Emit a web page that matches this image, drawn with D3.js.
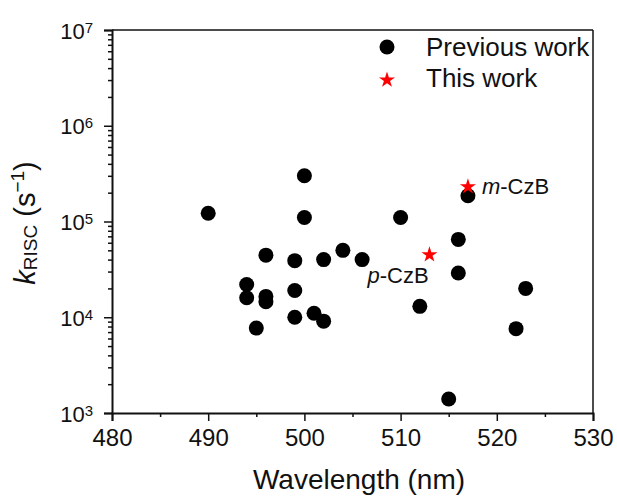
<!DOCTYPE html>
<html>
<head>
<meta charset="utf-8">
<script src="https://cdn.jsdelivr.net/npm/d3@7"></script>
<style>
  body { margin: 0; background: #fff; }
  text { font-family: "Liberation Sans", Arial, sans-serif; fill: #111; }
</style>
</head>
<body>
<svg id="chart" width="617" height="496"></svg>
<script>
// previous work (wavelength nm, kRISC s^-1)
const prevWavelength = [490, 500, 500, 496, 494, 494, 496, 496, 495, 499, 499, 499, 501, 502, 502, 504, 506, 510, 512, 516, 516, 517, 515, 522, 523];
const prevKrisc = [1.22e5, 3.0e5, 1.1e5, 4.45e4, 2.2e4, 1.6e4, 1.65e4, 1.45e4, 7.7e3, 3.9e4, 1.9e4, 1.0e4, 1.1e4, 9.1e3, 4.0e4, 5.0e4, 4.0e4, 1.1e5, 1.3e4, 6.5e4, 2.9e4, 1.86e5, 1.4e3, 7.6e3, 2.0e4];

// this work
const thisNames = ["m-CzB", "p-CzB"];
const thisWavelength = [517, 513];
const thisKrisc = [2.36e5, 4.6e4];

const xTicks = [480, 490, 500, 510, 520, 530];
const yTicks = [1e3, 1e4, 1e5, 1e6, 1e7];
const legendLabels = ["Previous work", "This work"];

const svg = d3.select("#chart");
const margin = { left: 112, top: 30, right: 24, bottom: 83 };
const W = 617 - margin.left - margin.right;
const H = 496 - margin.top - margin.bottom;

const x = d3.scaleLinear().domain([480, 530]).range([0, W]);
const y = d3.scaleLog().domain([1e3, 1e7]).range([H, 0]);

const g = svg.append("g").attr("transform", `translate(${margin.left},${margin.top})`);

// minor ticks first
const xMinor = d3.range(485, 530, 10);
g.append("g")
  .attr("transform", `translate(0,${H})`)
  .call(d3.axisBottom(x).tickValues(xMinor).tickSize(4).tickFormat(""))
  .call(a => a.select(".domain").remove())
  .selectAll("line").attr("stroke", "#111").attr("stroke-width", 1.5);

let yMinor = [];
[1e3, 1e4, 1e5, 1e6].forEach(d => { for (let k = 2; k <= 9; k++) yMinor.push(d * k); });
g.append("g")
  .call(d3.axisLeft(y).tickValues(yMinor).tickSize(4).tickFormat(""))
  .call(a => a.select(".domain").remove())
  .selectAll("line").attr("stroke", "#111").attr("stroke-width", 1.5);

// major x axis
const xAxis = g.append("g")
  .attr("transform", `translate(0,${H})`)
  .call(d3.axisBottom(x).tickValues(xTicks).tickSize(8).tickPadding(8).tickFormat(d3.format("d")));
xAxis.selectAll("line").attr("stroke", "#111").attr("stroke-width", 1.5);
xAxis.select(".domain").attr("stroke", "#111").attr("stroke-width", 2);
xAxis.selectAll("text").attr("font-size", 24).attr("fill", "#111")
  .attr("font-family", "Liberation Sans, Arial, sans-serif");

// major y axis with 10^n labels
const yAxis = g.append("g")
  .call(d3.axisLeft(y).tickValues(yTicks).tickSize(8).tickFormat(""));
yAxis.selectAll("line").attr("stroke", "#111").attr("stroke-width", 1.5);
yAxis.select(".domain").attr("stroke", "#111").attr("stroke-width", 2);
yAxis.selectAll(".tick").each(function(d) {
  const t = d3.select(this).append("text")
    .attr("x", -19).attr("y", 8)
    .attr("text-anchor", "end")
    .attr("font-size", 22)
    .attr("fill", "#111");
  t.append("tspan").text("10");
  t.append("tspan").attr("dy", -6).attr("font-size", 15).text(Math.round(Math.log10(d)));
});

// frame top and right
g.append("line").attr("x1", 0).attr("x2", W).attr("y1", 0).attr("y2", 0)
  .attr("stroke", "#111").attr("stroke-width", 1.5);
g.append("line").attr("x1", W).attr("x2", W).attr("y1", 0).attr("y2", H)
  .attr("stroke", "#111").attr("stroke-width", 1.5);

// axis titles
svg.append("text")
  .attr("x", 359).attr("y", 489)
  .attr("text-anchor", "middle")
  .attr("font-size", 28)
  .text("Wavelength (nm)");

const yt = svg.append("text")
  .attr("transform", "translate(35,223) rotate(-90)")
  .attr("text-anchor", "middle")
  .attr("font-size", 29);
yt.append("tspan").attr("font-style", "italic").text("k");
yt.append("tspan").attr("dy", 2).attr("font-size", 19).text("RISC");
yt.append("tspan").attr("dy", -2).text(" (s");
yt.append("tspan").attr("dy", -11).attr("font-size", 19).text("\u22121");
yt.append("tspan").attr("dy", 11).text(")");

// points
const prev = prevWavelength.map((w, i) => ({ w, k: prevKrisc[i] }));
g.append("g").selectAll("circle")
  .data(prev)
  .join("circle")
  .attr("cx", d => x(d.w))
  .attr("cy", d => y(d.k))
  .attr("r", 7.5)
  .attr("fill", "#000");

const star = d3.symbol().type(d3.symbolStar).size(80);
const ours = thisWavelength.map((w, i) => ({ w, k: thisKrisc[i], name: thisNames[i] }));
g.append("g").selectAll("path")
  .data(ours)
  .join("path")
  .attr("d", star)
  .attr("transform", d => `translate(${x(d.w)},${y(d.k) + 1})`)
  .attr("fill", "#ff0000");

// labels for this work
const labelOffset = { "m-CzB": [14, 8], "p-CzB": [-62, 29] };
ours.forEach(d => {
  const [dx, dy] = labelOffset[d.name];
  const t = g.append("text")
    .attr("x", x(d.w) + dx).attr("y", y(d.k) + dy)
    .attr("font-size", 22);
  const parts = d.name.split("-");
  t.append("tspan").attr("font-style", "italic").text(parts[0]);
  t.append("tspan").text("-" + parts[1]);
});

// legend
const lg = g.append("g").attr("transform", `translate(${387 - margin.left},${47 - margin.top})`);
lg.append("circle").attr("cx", 0).attr("cy", 0).attr("r", 7.5).attr("fill", "#000");
lg.append("path").attr("d", star).attr("transform", "translate(0,33)").attr("fill", "#ff0000");
lg.selectAll("text.leg")
  .data(legendLabels)
  .join("text")
  .attr("class", "leg")
  .attr("x", 39)
  .attr("y", (d, i) => 9 + i * 31)
  .attr("font-size", 26)
  .text(d => d);
</script>
</body>
</html>
